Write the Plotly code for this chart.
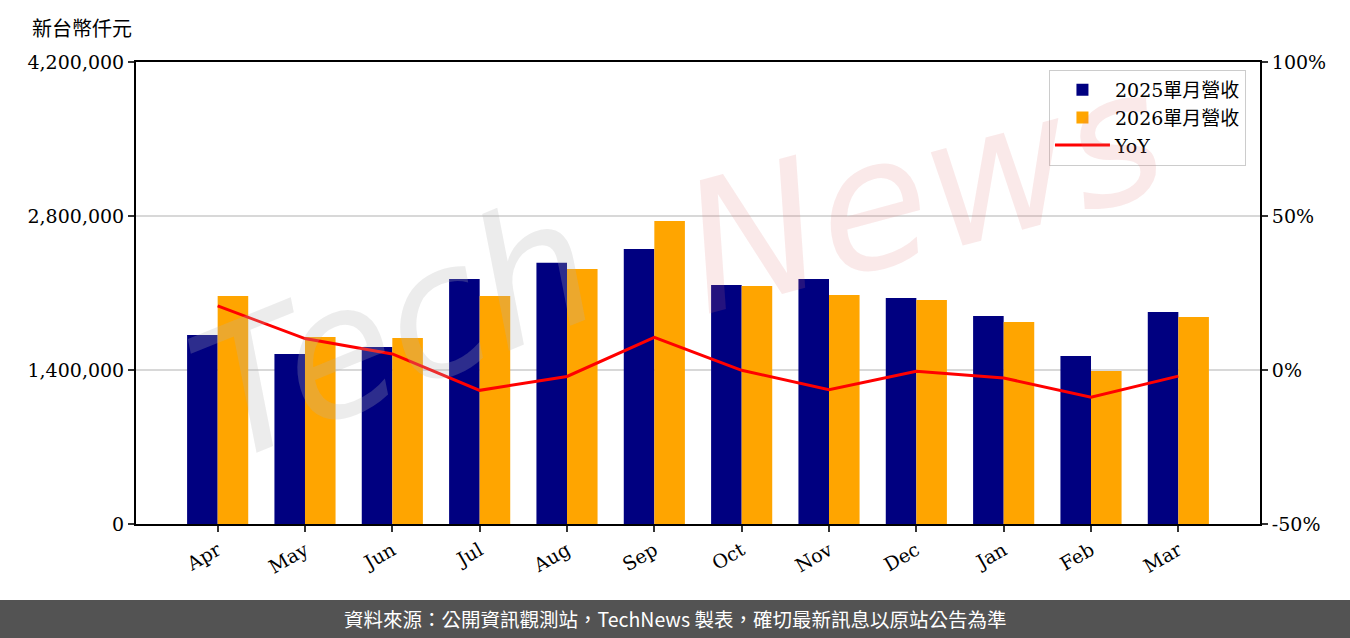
import plotly.graph_objects as go

months = ["Apr", "May", "Jun", "Jul", "Aug", "Sep", "Oct", "Nov", "Dec", "Jan", "Feb", "Mar"]
rev_2025 = [1718000, 1545000, 1609000, 2227000, 2375000, 2500000, 2173000, 2227000, 2055000, 1891000, 1527000, 1927000]
rev_2026 = [2073000, 1700000, 1691000, 2073000, 2318000, 2755000, 2164000, 2082000, 2036000, 1836000, 1391000, 1882000]
yoy = [20.8, 10.2, 5.2, -6.6, -2.1, 10.6, -0.1, -6.4, -0.4, -2.6, -8.8, -2.0]

left_ticks = [0, 1400000, 2800000, 4200000]
right_ticks = [-50, 0, 50, 100]
right_labels = ["-50%", "0%", "50%", "100%"]

FONT = "DejaVu Serif, Noto Sans CJK TC"
BW = 0.35
idx = list(range(len(months)))

fig = go.Figure()
fig.add_trace(go.Bar(x=[i - BW / 2 for i in idx], y=rev_2025, width=BW, name="2025單月營收",
                     marker=dict(color="#000080", line=dict(width=0))))
fig.add_trace(go.Bar(x=[i + BW / 2 for i in idx], y=rev_2026, width=BW, name="2026單月營收",
                     marker=dict(color="#FFA500", line=dict(width=0))))
fig.add_trace(go.Scatter(x=idx, y=yoy, name="YoY", mode="lines", yaxis="y2",
                         line=dict(color="#FF0000", width=3)))

fig.update_layout(
    width=1350, height=638,
    margin=dict(l=136, r=90, t=62, b=114),
    paper_bgcolor="white", plot_bgcolor="white",
    barmode="overlay",
    font=dict(family=FONT, size=19, color="black"),
    showlegend=True,
    legend=dict(x=0.9875, y=0.983, xanchor="right", yanchor="top",
                bgcolor="rgba(255,255,255,0.8)", bordercolor="#cccccc", borderwidth=1,
                font=dict(size=19, family=FONT), tracegroupgap=0, itemwidth=55),
    xaxis=dict(range=[-0.935, 11.935], tickvals=idx, ticktext=months, tickangle=-30,
               showgrid=False, zeroline=False, showline=True, linecolor="black", linewidth=2,
               mirror=True, ticks="outside", ticklen=6, tickwidth=2, tickcolor="#333333"),
    yaxis=dict(range=[0, 4200000], tickvals=left_ticks, tickformat=",d",
               showgrid=True, gridcolor="#d8d8d8", gridwidth=2, zeroline=False,
               showline=True, linecolor="black", linewidth=2, ticks="outside", ticklen=6,
               tickwidth=2, tickcolor="#333333"),
    yaxis2=dict(range=[-50, 100], tickvals=right_ticks, ticktext=right_labels, overlaying="y",
                side="right", showgrid=False, zeroline=False, showline=True, linecolor="black",
                linewidth=2, ticks="outside", ticklen=6, tickwidth=2, tickcolor="#333333"),
)

# Unit label
fig.add_annotation(text="新台幣仟元", xref="paper", yref="paper", x=-0.094, y=(524 - 27) / 462,
                   xanchor="left", yanchor="middle", showarrow=False,
                   font=dict(size=20, family="Noto Sans CJK TC"))

# Watermark
fig.add_annotation(text="<i>Tech</i>", xref="paper", yref="paper", x=0.23, y=0.42,
                   xanchor="center", yanchor="middle", showarrow=False, textangle=-22,
                   font=dict(size=180, family="DejaVu Sans", color="rgba(180,180,180,0.25)"))
fig.add_annotation(text="<i>News</i>", xref="paper", yref="paper", x=0.70, y=0.72,
                   xanchor="center", yanchor="middle", showarrow=False, textangle=-15,
                   font=dict(size=180, family="DejaVu Sans", color="rgba(225,120,120,0.16)"))

# Footer bar
fig.add_shape(type="rect", xref="paper", yref="paper", x0=-0.125, x1=1.085, y0=-0.26, y1=-0.1645,
              fillcolor="#535353", line=dict(width=0), layer="above")
fig.add_annotation(text="資料來源：公開資訊觀測站，TechNews 製表，確切最新訊息以原站公告為準",
                   xref="paper", yref="paper", x=(675 - 136) / 1124, y=-0.2055,
                   xanchor="center", yanchor="middle", showarrow=False,
                   font=dict(size=19.5, family="Noto Sans CJK TC", color="white"))

fig.write_html("out.html", config={"displayModeBar": False},
               post_script="document.body.style.margin='0';")
